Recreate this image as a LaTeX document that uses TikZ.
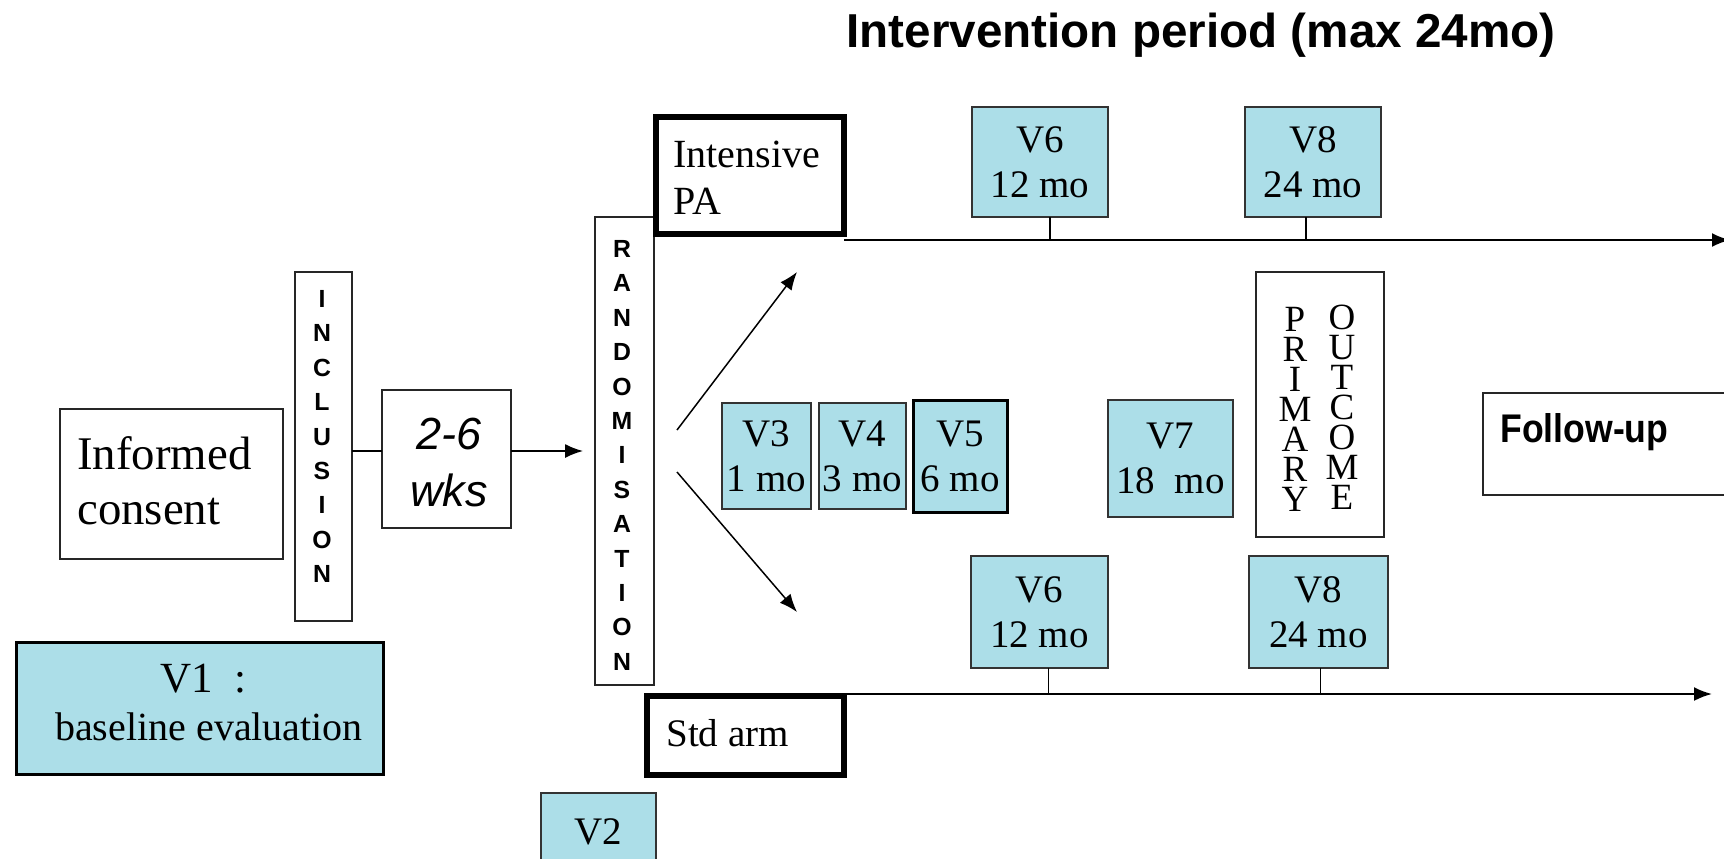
\documentclass[tikz,border=0pt]{standalone}
\usepackage{fontspec}
\setmainfont{Liberation Serif}
\setsansfont{Liberation Sans}
\usetikzlibrary{arrows.meta}
\definecolor{visitblue}{RGB}{172,222,232}
\newcommand{\frm}[4]{
	\node [frm, minimum width=#3, minimum height=#4] (#1) at (#2) {};}
\newcommand{\visit}[6][]{
	\node [visit, #1, minimum width=#4, minimum height=#5] (#2) at (#3) {#6};}

\begin{document}
\begin{tikzpicture}[x=0.5pt,y=-0.5pt,>={Latex[length=9pt,width=7pt]},
	frm/.style={draw=black!85, line width=0.75pt, inner sep=0pt, outer sep=0pt},
	arm/.style={frm, draw=black, line width=3pt},
	visit/.style={frm, fill=visitblue, draw=black!80, line width=1pt, align=center, font=\fontsize{19.5}{22.5}\selectfont},
	letters/.style={inner sep=0pt, align=center, font=\sffamily\bfseries\fontsize{12.4}{17.2}\selectfont},
	upright/.style={inner sep=0pt, anchor=north, align=center, font=\fontsize{18.5}{15}\selectfont},
	txt/.style={inner sep=0pt},
	conn/.style={line width=0.75pt}]
	\useasboundingbox (0,0) rectangle (1724,858);
	\clip (0,0) rectangle (1724,858);
	\node [txt, anchor=base, font=\sffamily\bfseries\fontsize{23.8}{28}\selectfont] (title) at (1201,47) {Intervention period (max 24mo)};
	% before randomisation
	\frm{consent}{171.5,484}{111.5pt}{75pt}
	\node [txt, anchor=north west, align=left, font=\fontsize{23.4}{27.5}\selectfont] (consentt) at (77,436) {Informed\\consent};
	\frm{incl}{323.5,446.5}{28.5pt}{174.5pt}
	\node [letters, anchor=north] (inclt) at (322,290) {I\\N\\C\\L\\U\\S\\I\\O\\N};
	\frm{wks}{446.5,459}{64.5pt}{69pt}
	\node [txt, anchor=north, align=center, font=\sffamily\itshape\fontsize{22.5}{28.5}\selectfont] (wkst) at (449,418) {2-6\\wks};
	\frm{rand}{624.5,451}{29.5pt}{234pt}
	\node [letters, anchor=north] (randt) at (622,240) {R\\A\\N\\D\\O\\M\\I\\S\\A\\T\\I\\O\\N};
	\node [frm, fill=visitblue, draw=black, line width=1.5pt, minimum width=183.5pt, minimum height=66pt] (v1) at (199.5,708) {};
	\node [txt, anchor=base, font=\fontsize{21.5}{24}\selectfont] (v1a) at (203,692) {V1\ \ :};
	\node [txt, anchor=base, font=\fontsize{20}{24}\selectfont] (v1b) at (209,740) {baseline evaluation};
	\visit{v2}{598.5,831.5}{57.5pt}{38.5pt}{V2}
	% the two arms
	\node [arm, minimum width=94pt, minimum height=58.5pt] (intpa) at (750,175.5) {};
	\node [txt, anchor=north west, align=left, font=\fontsize{20}{23.5}\selectfont] (intpat) at (673,141) {Intensive\\PA};
	\node [arm, minimum width=98.5pt, minimum height=39.5pt] (std) at (745.5,735.5) {};
	\node [txt, anchor=base west, font=\fontsize{19.5}{23}\selectfont] (stdt) at (666,746) {Std arm};
	% visits
	\visit{v3}{766.5,456}{44.5pt}{53pt}{V3\\1 mo}
	\visit{v4}{862.5,456}{43.5pt}{53pt}{V4\\3 mo}
	\visit[draw=black, line width=1.5pt]{v5}{960,456}{47pt}{56pt}{V5\\6 mo}
	\visit{v7}{1170.5,458.5}{62.5pt}{58.5pt}{V7\\18~~mo}
	\visit{v6a}{1040,162}{68pt}{55pt}{V6\\12 mo}
	\visit{v8a}{1313,162}{68pt}{55pt}{V8\\24 mo}
	\visit{v6b}{1039.5,612}{68.5pt}{56pt}{V6\\12 mo}
	\visit{v8b}{1318.5,612}{69.5pt}{56pt}{V8\\24 mo}
	\frm{prim}{1320,404.5}{64pt}{132.5pt}
	\node [upright] (primp) at (1295,307) {P\\R\\I\\M\\A\\R\\Y};
	\node [upright] (primo) at (1342,305) {O\\U\\T\\C\\O\\M\\E};
	\frm{follow}{1621.5,444}{138.5pt}{51pt}
	\node [txt, anchor=base west, xscale=0.89, font=\sffamily\bfseries\fontsize{20}{24}\selectfont] (followt) at (1500,442) {Follow-up};
	% connectors
	\coordinate (lvl) at (0,451);
	\coordinate (rtip) at (583,451);
	\draw [conn] (incl.east |- lvl) -- (wks.west |- lvl);
	\draw [conn, ->] (wks.east |- lvl) -- (rtip);
	\coordinate (upa) at (677,430);
	\coordinate (upb) at (797,272);
	\coordinate (dna) at (677,472);
	\coordinate (dnb) at (797,612);
	\draw [conn, ->] (upa) -- (upb);
	\draw [conn, ->] (dna) -- (dnb);
	% time lines
	\coordinate (tla) at (1730,240);
	\coordinate (tlb) at (1712,694);
	\draw [line width=1pt, ->] (intpa.south east |- tla) -- (tla);
	\draw [line width=1pt, ->] (std.north east |- tlb) -- (tlb);
	\draw [conn] ([xshift=5pt]v6a.south) -- ([xshift=5pt]v6a.south |- tla);
	\draw [conn] ([xshift=-3.5pt]v8a.south) -- ([xshift=-3.5pt]v8a.south |- tla);
	\draw [conn] ([xshift=4.5pt]v6b.south) -- ([xshift=4.5pt]v6b.south |- tlb);
	\draw [conn] ([xshift=1pt]v8b.south) -- ([xshift=1pt]v8b.south |- tlb);
\end{tikzpicture}
\end{document}
